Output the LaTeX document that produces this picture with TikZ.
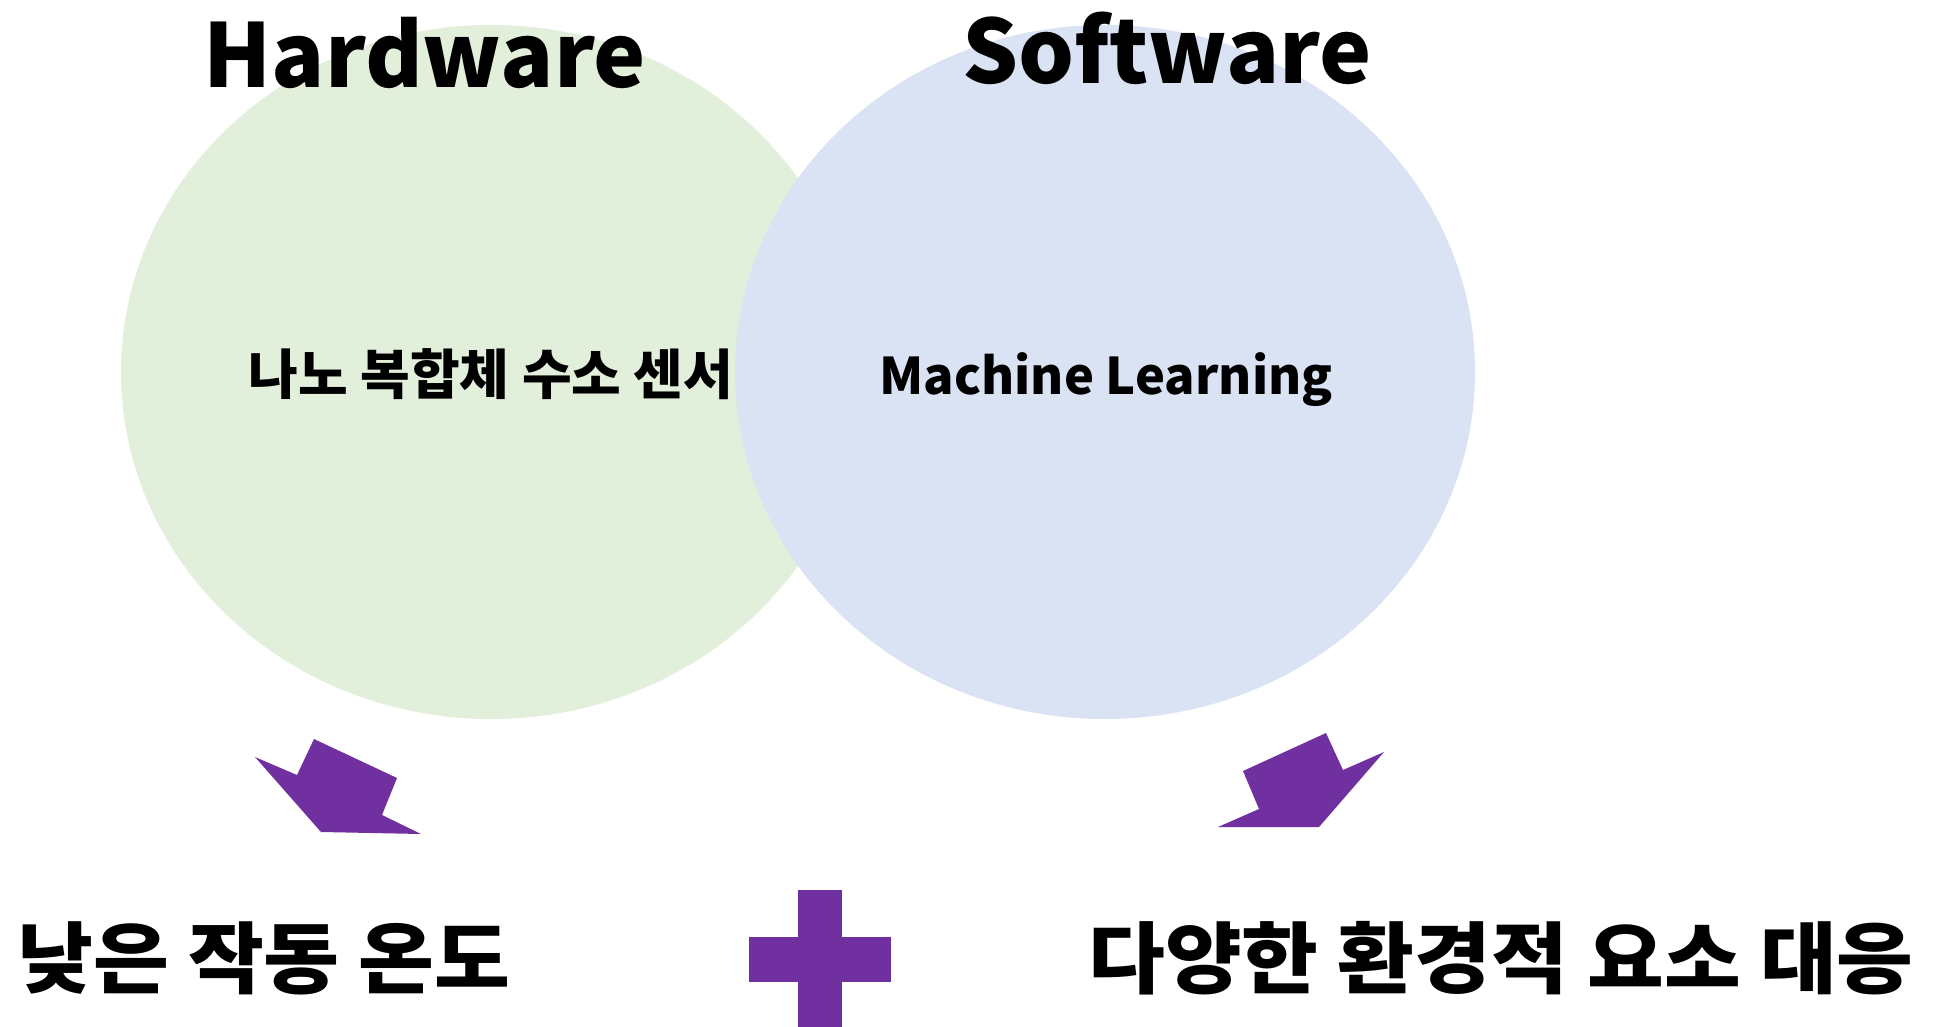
\documentclass[tikz,border=0pt]{standalone}
\usepackage{fontspec}
\setmainfont{Noto Sans CJK KR}
\definecolor{hwgreen}{HTML}{E2EFDA}
\definecolor{swblue}{HTML}{DAE3F3}
\definecolor{arrowpurple}{HTML}{7030A0}
\begin{document}
\begin{tikzpicture}[x=1pt,y=-1pt,
  title/.style={font=\fontsize{88}{96}\selectfont\bfseries, anchor=base, inner sep=0pt},
  inner/.style={font=\fontsize{50.5}{56}\selectfont\bfseries, inner sep=0pt},
  innerkr/.style={font=\fontsize{54}{60}\selectfont\bfseries, inner sep=0pt},
  result/.style={font=\fontsize{78}{86}\selectfont\bfseries, inner sep=0pt},
  blockarrow/.style={fill=arrowpurple, draw=none}]
\useasboundingbox (0,0) rectangle (1933,1027);
\fill[white] (0,0) rectangle (1933,1027);
% circles
\fill[hwgreen] (491,372) ellipse [x radius=370, y radius=347];
\fill[swblue] (1105,372) ellipse [x radius=370, y radius=347];
% titles
\node[title] (hw) at (425,88) {Hardware};
\node[title] (sw) at (1167,84) {Software};
% inner texts
\node[innerkr] (nano) at (491,374) {나노 복합체 수소 센서};
\node[inner, anchor=base] (ml) at (1106,394) {Machine Learning};
% arrows
\fill[blockarrow] (255,757) -- (297,775) -- (314,739) -- (397,778) -- (382,815) -- (421,834) -- (321,832) -- cycle;
\fill[blockarrow] (1384,752) -- (1343,770) -- (1326,733) -- (1243,771) -- (1259,809) -- (1218,827) -- (1319,827) -- cycle;
% plus
\fill[arrowpurple] (798,890) rectangle (842,1027);
\fill[arrowpurple] (749,937) rectangle (891,982);
% results
\node[result] (low) at (264,958) {\scalebox{1.057}[1]{낮은 작동 온도}};
\node[result] (env) at (1501,958) {\scalebox{1.07}[1]{다양한 환경적 요소 대응}};
\end{tikzpicture}
\end{document}
